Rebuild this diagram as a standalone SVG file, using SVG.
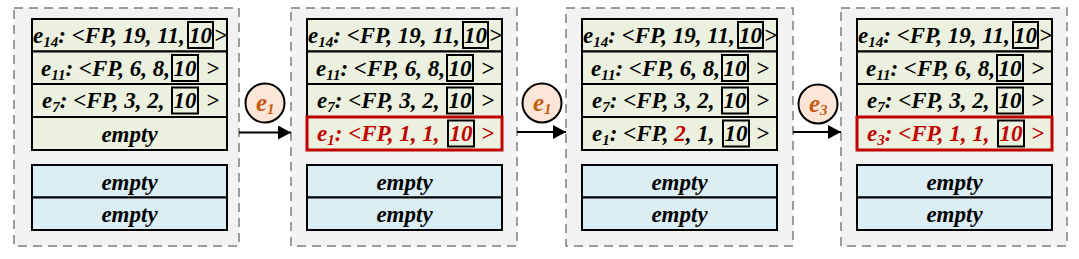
<svg xmlns="http://www.w3.org/2000/svg" width="1079" height="259" viewBox="0 0 1079 259">
<defs>
<style>
.panel{fill:#f2f2f2;stroke:#7f7f7f;stroke-width:1.5;stroke-dasharray:9 6}
.row{fill:#ebf1de;stroke:#000;stroke-width:2}
.brow{fill:#daeef3;stroke:#000;stroke-width:2}
.hl{fill:#ebf1de;stroke:#c00000;stroke-width:3}
.box{fill:none;stroke:#000;stroke-width:2}
.t{font-family:"Liberation Serif",serif;font-weight:bold;font-style:italic;font-size:23px;fill:#000}
.red{fill:#c00000}
.mid{text-anchor:middle}
.sub{font-size:15px}
.circ{fill:#fbe5d6;stroke:#000;stroke-width:2}
.ct{font-family:"Liberation Serif",serif;font-weight:bold;font-style:italic;font-size:25px;fill:#c55a11}
.arr{stroke:#000;stroke-width:2;fill:none}
</style>
<marker id="ah" viewBox="0 0 13 14" refX="13" refY="7" markerWidth="13" markerHeight="14" orient="auto" markerUnits="userSpaceOnUse">
<path d="M0,0 L13,7 L0,14 z" fill="#000"/>
</marker>
</defs>

<g id="panel1">
<rect class="panel" x="14" y="8" width="225" height="238"/>
<rect class="row" x="32" y="19" width="195" height="32.5"/>
<rect class="row" x="32" y="51.5" width="195" height="32.5"/>
<rect class="row" x="32" y="84" width="195" height="33"/>
<rect class="row" x="32" y="117" width="195" height="33"/>
<rect class="brow" x="32" y="165" width="195" height="32.5"/>
<rect class="brow" x="32" y="197.5" width="195" height="32.5"/>
<text class="t" x="33" y="43">e<tspan class="sub" dy="4">14</tspan><tspan dy="-4">: &lt;FP, 19, 11,</tspan></text>
<rect class="box" x="188" y="22" width="25" height="26"/><text class="t mid" x="200.5" y="43">10</text><text class="t" x="214" y="43">&gt;</text>
<text class="t" x="41" y="75.5">e<tspan class="sub" dy="4">11</tspan><tspan dy="-4">: &lt;FP, 6, 8,</tspan></text>
<rect class="box" x="172" y="55" width="26" height="26"/><text class="t mid" x="185" y="75.5">10</text><text class="t" x="206" y="75.5">&gt;</text>
<text class="t" x="42" y="108">e<tspan class="sub" dy="4">7</tspan><tspan dy="-4">: &lt;FP, 3, 2,</tspan></text>
<rect class="box" x="172" y="87.5" width="26" height="26"/><text class="t mid" x="185" y="108">10</text><text class="t" x="206" y="108">&gt;</text>
<text class="t mid" x="129.5" y="141.5">empty</text>
<text class="t mid" x="129.5" y="189.5">empty</text>
<text class="t mid" x="129.5" y="222">empty</text>
</g>

<g id="panel2">
<rect class="panel" x="291" y="8" width="226" height="238"/>
<rect class="row" x="307" y="19" width="195" height="32.5"/>
<rect class="row" x="307" y="51.5" width="195" height="32.5"/>
<rect class="row" x="307" y="84" width="195" height="33"/>
<rect class="brow" x="307" y="165" width="195" height="32.5"/>
<rect class="brow" x="307" y="197.5" width="195" height="32.5"/>
<rect class="hl" x="307" y="117" width="195" height="33"/>
<text class="t" x="308" y="43">e<tspan class="sub" dy="4">14</tspan><tspan dy="-4">: &lt;FP, 19, 11,</tspan></text>
<rect class="box" x="463" y="22" width="25" height="26"/><text class="t mid" x="475.5" y="43">10</text><text class="t" x="489" y="43">&gt;</text>
<text class="t" x="316" y="75.5">e<tspan class="sub" dy="4">11</tspan><tspan dy="-4">: &lt;FP, 6, 8,</tspan></text>
<rect class="box" x="447" y="55" width="26" height="26"/><text class="t mid" x="460" y="75.5">10</text><text class="t" x="481" y="75.5">&gt;</text>
<text class="t" x="317" y="108">e<tspan class="sub" dy="4">7</tspan><tspan dy="-4">: &lt;FP, 3, 2,</tspan></text>
<rect class="box" x="447" y="87.5" width="26" height="26"/><text class="t mid" x="460" y="108">10</text><text class="t" x="481" y="108">&gt;</text>
<text class="t red" x="317" y="141">e<tspan class="sub" dy="4">1</tspan><tspan dy="-4">: &lt;FP, 1, 1,</tspan></text>
<rect class="box" x="448" y="120.5" width="26" height="26"/><text class="t mid red" x="461" y="141">10</text><text class="t red" x="481" y="141">&gt;</text>
<text class="t mid" x="404.5" y="189.5">empty</text>
<text class="t mid" x="404.5" y="222">empty</text>
</g>

<g id="panel3">
<rect class="panel" x="566" y="8" width="227" height="238"/>
<rect class="row" x="582" y="19" width="195" height="32.5"/>
<rect class="row" x="582" y="51.5" width="195" height="32.5"/>
<rect class="row" x="582" y="84" width="195" height="33"/>
<rect class="row" x="582" y="117" width="195" height="33"/>
<rect class="brow" x="582" y="165" width="195" height="32.5"/>
<rect class="brow" x="582" y="197.5" width="195" height="32.5"/>
<text class="t" x="583" y="43">e<tspan class="sub" dy="4">14</tspan><tspan dy="-4">: &lt;FP, 19, 11,</tspan></text>
<rect class="box" x="738" y="22" width="25" height="26"/><text class="t mid" x="750.5" y="43">10</text><text class="t" x="764" y="43">&gt;</text>
<text class="t" x="591" y="75.5">e<tspan class="sub" dy="4">11</tspan><tspan dy="-4">: &lt;FP, 6, 8,</tspan></text>
<rect class="box" x="722" y="55" width="26" height="26"/><text class="t mid" x="735" y="75.5">10</text><text class="t" x="756" y="75.5">&gt;</text>
<text class="t" x="592" y="108">e<tspan class="sub" dy="4">7</tspan><tspan dy="-4">: &lt;FP, 3, 2,</tspan></text>
<rect class="box" x="722" y="87.5" width="26" height="26"/><text class="t mid" x="735" y="108">10</text><text class="t" x="756" y="108">&gt;</text>
<text class="t" x="592" y="141">e<tspan class="sub" dy="4">1</tspan><tspan dy="-4">: &lt;FP, </tspan><tspan class="red">2</tspan>, 1,</text>
<rect class="box" x="723" y="120.5" width="26" height="26"/><text class="t mid" x="736" y="141">10</text><text class="t" x="756" y="141">&gt;</text>
<text class="t mid" x="679.5" y="189.5">empty</text>
<text class="t mid" x="679.5" y="222">empty</text>
</g>

<g id="panel4">
<rect class="panel" x="841" y="8" width="226" height="238"/>
<rect class="row" x="857" y="19" width="195" height="32.5"/>
<rect class="row" x="857" y="51.5" width="195" height="32.5"/>
<rect class="row" x="857" y="84" width="195" height="33"/>
<rect class="brow" x="857" y="165" width="195" height="32.5"/>
<rect class="brow" x="857" y="197.5" width="195" height="32.5"/>
<rect class="hl" x="857" y="117" width="195" height="33"/>
<text class="t" x="858" y="43">e<tspan class="sub" dy="4">14</tspan><tspan dy="-4">: &lt;FP, 19, 11,</tspan></text>
<rect class="box" x="1013" y="22" width="25" height="26"/><text class="t mid" x="1025.5" y="43">10</text><text class="t" x="1039" y="43">&gt;</text>
<text class="t" x="866" y="75.5">e<tspan class="sub" dy="4">11</tspan><tspan dy="-4">: &lt;FP, 6, 8,</tspan></text>
<rect class="box" x="997" y="55" width="26" height="26"/><text class="t mid" x="1010" y="75.5">10</text><text class="t" x="1031" y="75.5">&gt;</text>
<text class="t" x="867" y="108">e<tspan class="sub" dy="4">7</tspan><tspan dy="-4">: &lt;FP, 3, 2,</tspan></text>
<rect class="box" x="997" y="87.5" width="26" height="26"/><text class="t mid" x="1010" y="108">10</text><text class="t" x="1031" y="108">&gt;</text>
<text class="t red" x="867" y="141">e<tspan class="sub" dy="4">3</tspan><tspan dy="-4">: &lt;FP, 1, 1,</tspan></text>
<rect class="box" x="998" y="120.5" width="26" height="26"/><text class="t mid red" x="1011" y="141">10</text><text class="t red" x="1031" y="141">&gt;</text>
<text class="t mid" x="954.5" y="189.5">empty</text>
<text class="t mid" x="954.5" y="222">empty</text>
</g>

<g id="event1">
<circle class="circ" cx="265" cy="103" r="19.5"/>
<text class="ct" x="256" y="111">e<tspan class="sub" dy="3">1</tspan></text>
</g>
<g id="event2">
<circle class="circ" cx="542" cy="103" r="19.5"/>
<text class="ct" x="533" y="111">e<tspan class="sub" dy="3">1</tspan></text>
</g>
<g id="event3">
<circle class="circ" cx="818" cy="104" r="19.5"/>
<text class="ct" x="809" y="112">e<tspan class="sub" dy="3">3</tspan></text>
</g>

<g id="connectors">
<line class="arr" x1="239" y1="132.5" x2="291" y2="132.5" marker-end="url(#ah)"/>
<line class="arr" x1="517" y1="132" x2="566" y2="132" marker-end="url(#ah)"/>
<line class="arr" x1="793" y1="132" x2="841" y2="132" marker-end="url(#ah)"/>
</g>
</svg>
